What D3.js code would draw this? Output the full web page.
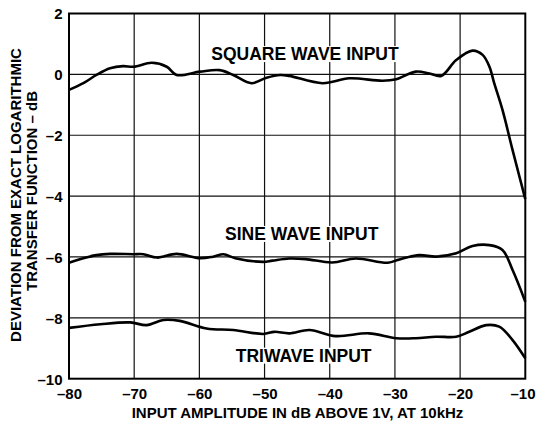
<!DOCTYPE html>
<html><head><meta charset="utf-8">
<script src="https://cdn.jsdelivr.net/npm/d3@7/dist/d3.min.js"></script>
<style>body{margin:0;background:#fff}svg{display:block}text{font-family:"Liberation Sans",Arial,Helvetica,sans-serif;font-weight:bold;fill:#000}</style>
</head><body><svg id="c" width="536" height="421"></svg>
<script>
const xTicks = [-80,-70,-60,-50,-40,-30,-20,-10];
const yTicks = [2,0,-2,-4,-6,-8,-10];
const squareX = [-80,-77.8,-75.8,-73.7,-71.7,-70.1,-67.3,-65.0,-63.5,-59.9,-56.9,-54.8,-52.0,-49.7,-47.6,-46.2,-41.1,-37,-31.9,-29.8,-26.8,-24.7,-22.9,-20.6,-18.1,-16.55,-15.5,-14.77,-13.5,-11.95,-10];
const squareY = [-0.51,-0.29,-0.02,0.20,0.27,0.25,0.38,0.25,-0.02,0.09,0.14,-0.02,-0.29,-0.11,-0.02,-0.05,-0.29,-0.13,-0.21,-0.16,0.09,0.03,-0.05,0.47,0.78,0.64,0.25,-0.29,-1.17,-2.49,-4.1];
const sineX = [-80,-77.8,-75.8,-73.7,-70.1,-68.6,-66.5,-63.5,-59.9,-57.9,-56.3,-54.5,-50.2,-48.8,-46.2,-43.7,-39.6,-36,-31.1,-29.3,-26.3,-23.7,-20.6,-18.1,-15.5,-13.5,-11.95,-10];
const sineY = [-6.19,-6.04,-5.94,-5.90,-5.91,-5.91,-6.02,-5.90,-6.04,-5.99,-5.91,-6.04,-6.16,-6.12,-6.05,-6.07,-6.18,-6.05,-6.19,-6.08,-5.94,-5.99,-5.88,-5.64,-5.61,-5.77,-6.43,-7.47];
const triX = [-80,-75.2,-70.6,-68.1,-65.5,-63,-58.9,-54.8,-50.2,-48.5,-46.2,-43.1,-39.1,-34,-29.8,-26.8,-23.7,-20.6,-18.6,-16,-14,-11.95,-10];
const triY = [-8.33,-8.21,-8.15,-8.24,-8.07,-8.10,-8.35,-8.40,-8.53,-8.46,-8.51,-8.40,-8.60,-8.51,-8.67,-8.67,-8.62,-8.62,-8.46,-8.24,-8.29,-8.73,-9.33];
const labels = [
  {text:"SQUARE WAVE INPUT", x:-43.8, y:0.47},
  {text:"SINE WAVE INPUT", x:-44.3, y:-5.44},
  {text:"TRIWAVE INPUT", x:-44.0, y:-9.44}
];
const xTitle = "INPUT AMPLITUDE IN dB ABOVE 1V, AT 10kHz";
const yTitle = ["DEVIATION FROM EXACT LOGARITHMIC","TRANSFER FUNCTION – dB"];

const svg = d3.select("#c");
const L=69, R=525.3, T=13.5, B=378.7;
const x = d3.scaleLinear().domain([-80,-10]).range([L,R]);
const y = d3.scaleLinear().domain([-10,2]).range([B,T]);

// grid
svg.append("g").selectAll("line").data(xTicks.slice(1,-1)).join("line")
  .attr("x1",d=>x(d)).attr("x2",d=>x(d)).attr("y1",T).attr("y2",B)
  .attr("stroke","#111").attr("stroke-width",1.2);
svg.append("g").selectAll("line").data(yTicks.slice(1,-1)).join("line")
  .attr("y1",d=>y(d)).attr("y2",d=>y(d)).attr("x1",L).attr("x2",R)
  .attr("stroke","#111").attr("stroke-width",1.2);

// axes labels
const xa = d3.axisBottom(x).tickValues(xTicks).tickSize(0).tickPadding(0).tickFormat(d=>String(d).replace("-","\u2013"));
const gx = svg.append("g").attr("transform",`translate(0,${B})`).call(xa);
gx.select(".domain").remove();
gx.selectAll("text").attr("dy",null).attr("y",20.5).style("font-size","15px").attr("font-family",null);
// keep the last label inside the picture
gx.selectAll(".tick").filter(d=>d===-10).select("text").attr("text-anchor","end").attr("x",535-x(-10));
const ya = d3.axisLeft(y).tickValues(yTicks).tickSize(0).tickPadding(0).tickFormat(d=>String(d).replace("-","\u2013"));
const gy = svg.append("g").attr("transform",`translate(${L-6.5},0)`).call(ya);
gy.select(".domain").remove();
gy.selectAll("text").attr("dy","0.36em").attr("x",0).style("font-size","15px").attr("font-family",null);

// labels (with white backing, drawn before curves)
const lg = svg.append("g");
lg.selectAll("text").data(labels).join("text")
  .attr("x",d=>x(d.x)).attr("y",d=>y(d.y)).attr("text-anchor","middle")
  .style("font-size","17.5px").text(d=>d.text)
  .each(function(){
    const b=this.getBBox();
    lg.insert("rect","text").attr("x",b.x-2).attr("y",b.y+2).attr("width",b.width+4).attr("height",b.height-4).attr("fill","#fff");
  });

// frame
svg.append("rect").attr("x",L).attr("y",T).attr("width",R-L).attr("height",B-T)
  .attr("fill","none").attr("stroke","#000").attr("stroke-width",2);

// curves
const line = d3.line().x(d=>x(d[0])).y(d=>y(d[1])).curve(d3.curveCatmullRom.alpha(0.5));
[[squareX,squareY],[sineX,sineY],[triX,triY]].forEach(([xs,ys])=>{
  svg.append("path").datum(xs.map((v,i)=>[v,ys[i]])).attr("d",line)
    .attr("fill","none").attr("stroke","#000").attr("stroke-width",2.6).attr("stroke-linejoin","round");
});

svg.append("text").attr("x",297.5).attr("y",418.3).attr("text-anchor","middle")
  .style("font-size","15px").text(xTitle);
svg.append("text").attr("transform","translate(21,195) rotate(-90)").attr("text-anchor","middle")
  .style("font-size","15px").text(yTitle[0]);
svg.append("text").attr("transform","translate(37.3,191) rotate(-90)").attr("text-anchor","middle")
  .style("font-size","15px").text(yTitle[1]);
</script></body></html>
